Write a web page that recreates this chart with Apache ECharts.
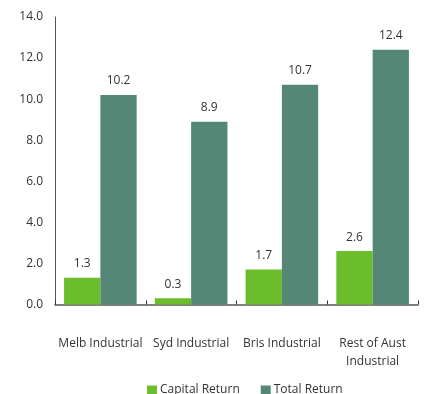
<!DOCTYPE html>
<html>
<head>
<meta charset="utf-8">
<script src="https://cdn.jsdelivr.net/npm/echarts@6/dist/echarts.min.js"></script>
<style>
  html, body { margin: 0; padding: 0; background: #fff; }
  #chart { width: 425px; height: 394px; }
</style>
</head>
<body>
<div id="chart"></div>
<script>
// Industrial property returns by market (%)
const categories = ['Melb Industrial', 'Syd Industrial', 'Bris Industrial', 'Rest of Aust\nIndustrial'];
const capitalReturn = [1.3, 0.3, 1.7, 2.6];
const totalReturn = [10.2, 8.9, 10.7, 12.4];
const seriesNames = ['Capital Return', 'Total Return'];

const fontFamily = '"Open Sans", "Noto Sans", sans-serif';
const textColor = '#333333';

const chart = echarts.init(document.getElementById('chart'), null, { renderer: 'canvas' });

const valueLabel = {
  show: true,
  position: 'top',
  distance: 8,
  color: textColor,
  fontSize: 12,
  fontFamily: fontFamily,
  formatter: p => p.value.toFixed(1)
};

chart.setOption({
  animation: false,
  grid: { left: 55, right: 7, top: 17, bottom: 89.5, containLabel: false },
  legend: {
    left: 147,
    top: 384,
    padding: 0,
    itemWidth: 10,
    itemHeight: 9,
    itemGap: 21,
    icon: 'rect',
    textStyle: { color: textColor, fontSize: 12, fontFamily: fontFamily, padding: [0, 0, 0, -2] },
    data: seriesNames
  },
  xAxis: {
    type: 'category',
    data: categories,
    axisLine: { lineStyle: { color: '#555555', width: 1.5 } },
    axisTick: { show: true, inside: true, length: 4, lineStyle: { color: '#333333' } },
    axisLabel: {
      color: textColor,
      fontSize: 12,
      fontFamily: fontFamily,
      margin: 30,
      lineHeight: 18,
      interval: 0
    }
  },
  yAxis: {
    type: 'value',
    min: 0,
    max: 14,
    interval: 2,
    axisLine: { show: true, lineStyle: { color: '#555555', width: 1 } },
    axisTick: { show: false },
    splitLine: { show: false },
    axisLabel: {
      color: textColor,
      fontSize: 12,
      fontFamily: fontFamily,
      margin: 12,
      formatter: v => v.toFixed(1)
    }
  },
  series: [
    {
      name: seriesNames[0],
      type: 'bar',
      data: capitalReturn,
      barGap: '0%',
      barCategoryGap: '20%',
      itemStyle: { color: '#6BBD2B' },
      label: valueLabel
    },
    {
      name: seriesNames[1],
      type: 'bar',
      data: totalReturn,
      barGap: '0%',
      barCategoryGap: '20%',
      itemStyle: { color: '#558777' },
      label: valueLabel
    }
  ]
});
</script>
</body>
</html>
